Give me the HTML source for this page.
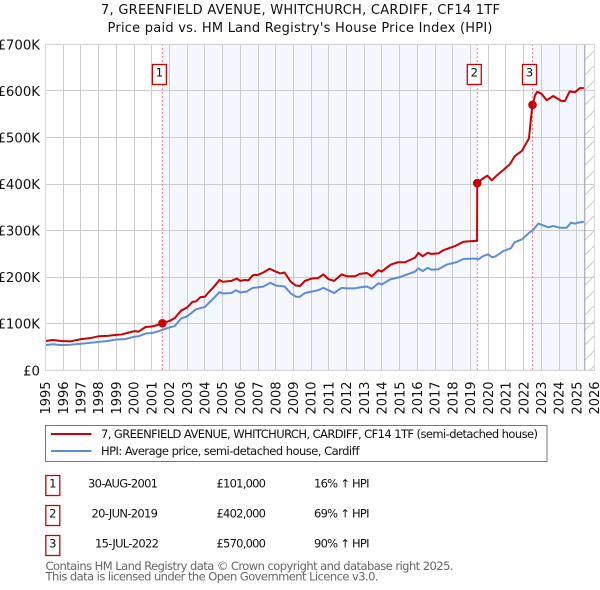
<!DOCTYPE html>
<html lang="en">
<head>
<meta charset="utf-8">
<title>7, Greenfield Avenue price chart</title>
<style>
html,body{margin:0;padding:0;background:#fff;}
svg{display:block;font-family:"DejaVu Sans","Liberation Sans",sans-serif;}
</style>
</head>
<body>
<svg id="chart" xmlns="http://www.w3.org/2000/svg" width="600" height="590" viewBox="0 0 600 590">
<defs>
<pattern id="hatch" patternUnits="userSpaceOnUse" width="15" height="15">
<path d="M0 15L15 0" stroke="#c8c8c8" stroke-width="1" fill="none"/>
</pattern>
</defs>
<text x="300.5" y="14" text-anchor="middle" font-size="13" fill="#111" textLength="399">7, GREENFIELD AVENUE, WHITCHURCH, CARDIFF, CF14 1TF</text>
<text x="300" y="32" text-anchor="middle" font-size="13" fill="#111" textLength="385">Price paid vs. HM Land Registry's House Price Index (HPI)</text>
<g id="plot"></g>

<g>
<rect x="45.5" y="425.5" width="501.5" height="36" fill="#fff" stroke="#777" stroke-width="1"/>
<line x1="51" x2="91.5" y1="434" y2="434" stroke="#cc0000" stroke-width="2"/>
<text x="101" y="438" font-size="11.5" fill="#111" textLength="437">7, GREENFIELD AVENUE, WHITCHURCH, CARDIFF, CF14 1TF (semi-detached house)</text>
<line x1="51" x2="91.5" y1="451" y2="451" stroke="#5f8dd3" stroke-width="2"/>
<text x="101" y="455" font-size="11.5" fill="#111" textLength="258.5">HPI: Average price, semi-detached house, Cardiff</text>
</g>

<g>
<rect x="45.8" y="475.5" width="14" height="20" fill="#fff" stroke="#cc0000" stroke-width="1.3"/>
<text x="52.8" y="487.5" text-anchor="middle" font-size="11.5" fill="#111">1</text>
<text x="88" y="487.5" font-size="11.5" fill="#111" textLength="70">30-AUG-2001</text>
<text x="216.5" y="487.5" font-size="11.5" fill="#111" textLength="49.5">£101,000</text>
<text x="314" y="487.5" font-size="11.5" fill="#111" textLength="55.5">16% ↑ HPI</text>
</g>
<g>
<rect x="45.8" y="505.5" width="14" height="20" fill="#fff" stroke="#cc0000" stroke-width="1.3"/>
<text x="52.8" y="517.5" text-anchor="middle" font-size="11.5" fill="#111">2</text>
<text x="91.5" y="517.5" font-size="11.5" fill="#111" textLength="66.5">20-JUN-2019</text>
<text x="216.5" y="517.5" font-size="11.5" fill="#111" textLength="49.5">£402,000</text>
<text x="314" y="517.5" font-size="11.5" fill="#111" textLength="55.5">69% ↑ HPI</text>
</g>
<g>
<rect x="45.8" y="535.5" width="14" height="20" fill="#fff" stroke="#cc0000" stroke-width="1.3"/>
<text x="52.8" y="547.5" text-anchor="middle" font-size="11.5" fill="#111">3</text>
<text x="95" y="547.5" font-size="11.5" fill="#111" textLength="64">15-JUL-2022</text>
<text x="216.5" y="547.5" font-size="11.5" fill="#111" textLength="49.5">£570,000</text>
<text x="314" y="547.5" font-size="11.5" fill="#111" textLength="55.5">90% ↑ HPI</text>
</g>

<text x="45.5" y="570" font-size="11.5" fill="#666" textLength="408">Contains HM Land Registry data © Crown copyright and database right 2025.</text>
<text x="45.5" y="580.5" font-size="11.5" fill="#666" textLength="333">This data is licensed under the Open Government Licence v3.0.</text>
</svg>
<script>
const yearTicks = [1995,1996,1997,1998,1999,2000,2001,2002,2003,2004,2005,2006,2007,2008,2009,2010,2011,2012,2013,2014,2015,2016,2017,2018,2019,2020,2021,2022,2023,2024,2025,2026];
const valueTicks = [0,100,200,300,400,500,600,700];
const valueLabels = ['£0','£100K','£200K','£300K','£400K','£500K','£600K','£700K'];

const hpiDates = [1995,1995.4,1995.9,1996.4,1997,1997.5,1998,1998.5,1999,1999.5,2000,2000.25,2000.65,2001,2001.3,2001.6,2002,2002.3,2002.65,2003,2003.5,2004,2004.5,2004.83,2005,2005.5,2005.75,2006,2006.35,2006.7,2007,2007.3,2007.7,2008,2008.5,2008.85,2009.15,2009.37,2009.65,2010.03,2010.4,2010.69,2010.97,2011.3,2011.72,2012,2012.48,2012.76,2013.14,2013.42,2013.8,2013.98,2014.45,2015,2015.5,2015.87,2016.05,2016.3,2016.58,2016.8,2017.18,2017.65,2018.2,2018.6,2019.25,2019.44,2019.7,2020,2020.2,2020.38,2020.85,2021.27,2021.5,2021.9,2022.36,2022.5,2022.83,2023.4,2023.67,2024.05,2024.43,2024.67,2024.9,2025.08,2025.4];
const hpiValues = [54,56,54,55,57,59,61,63,66,67,72,73,79,80,83,87,92,95,111,116,131,136,155,168,165,166,172,167,169,177,178,180,188,182,180,165,158,158,166,169,172,177,172,166,177,176,176,178,180,175,187,184,195,200,207,212,219,213,220,216,217,227,232,239,240,238,245,249,243,244,256,262,275,281,297,300,315,307,310,306,306,317,315,317,319];

const priceDates = [1995,1995.4,1995.9,1996.4,1997,1997.5,1998,1998.5,1999,1999.3,2000,2000.25,2000.65,2001,2001.3,2001.6,2002,2002.3,2002.65,2003,2003.3,2003.5,2003.75,2004,2004.2,2004.5,2004.83,2005,2005.5,2005.8,2006,2006.27,2006.45,2006.7,2007,2007.3,2007.65,2008,2008.25,2008.5,2008.85,2009.15,2009.37,2009.65,2010.03,2010.4,2010.69,2010.97,2011.3,2011.72,2012,2012.48,2012.76,2013.14,2013.42,2013.8,2013.98,2014.5,2014.9,2015.3,2015.87,2016.05,2016.3,2016.58,2016.8,2017.18,2017.47,2018.14,2018.6,2019.25,2019.37,2019.38,2019.63,2019.95,2020.2,2020.5,2020.85,2021.23,2021.5,2021.9,2022.3,2022.42,2022.5,2022.65,2022.77,2023,2023.3,2023.67,2024.15,2024.33,2024.6,2024.9,2025.17,2025.4];
const priceValues = [63,65,63,62,67,69,73,74,76,77,84,83,93,94,97,101,106,112,128,135,147,148,157,158,167,179,194,190,192,197,192,194,193,204,205,210,218,212,208,210,190,182,181,192,197,198,206,196,192,206,202,202,207,209,202,215,212,227,232,232,242,252,245,252,250,251,258,267,276,278,278,402,410,418,408,419,430,443,460,471,498,544,570,591,598,594,580,589,578,578,599,597,606,606];

const saleDates = [2001.6,2019.38,2022.5];
const saleValues = [101,402,570];
const saleNumbers = ['1','2','3'];
const dataEndYear = 2025.45;

const NS = 'http://www.w3.org/2000/svg';
const plot = document.getElementById('plot');
const X0 = 45.5, X1 = 594.5, Y0 = 370.3, Y1 = 44.3;
function xScale(year){ return X0 + (year - 1995) * (X1 - X0) / 31; }
function yScale(v){ return Y0 - v * (Y0 - Y1) / 700; }
function make(tag, attrs, parent){
  const el = document.createElementNS(NS, tag);
  for (const k in attrs) el.setAttribute(k, attrs[k]);
  (parent || plot).appendChild(el);
  return el;
}
function pathFrom(dates, values){
  return dates.map((d, i) => (i ? 'L' : 'M') + xScale(d).toFixed(2) + ' ' + yScale(values[i]).toFixed(2)).join('');
}

const band1 = make('rect', {x: xScale(saleDates[0]), y: Y1, width: xScale(saleDates[1]) - xScale(saleDates[0]), height: Y0 - Y1, fill: '#f5f7ff'});


const band2 = make('rect', {x: xScale(saleDates[2]), y: Y1, width: xScale(dataEndYear) - xScale(saleDates[2]), height: Y0 - Y1, fill: '#f5f7ff'});


const hatch = make('rect', {x: xScale(dataEndYear), y: Y1, width: X1 - xScale(dataEndYear), height: Y0 - Y1, fill: 'url(#hatch)'});



yearTicks.forEach(function(yr){
  const px = Math.round(xScale(yr) - 0.5) + 0.5;
  const g = make('line', {x1: px, x2: px, y1: Y1, y2: Y0, stroke: '#cccccc', 'stroke-width': 1});
  
  
  const bx = xScale(yr) + 4.6;
  const t = make('text', {x: bx, y: 414.5, 'font-size': 13, fill: '#111', transform: 'rotate(-90 ' + bx + ' 414.5)'});
  
  
  t.textContent = yr;
});
valueTicks.forEach(function(v, i){
  const py = Math.round(yScale(v) - 0.5) + 0.5;
  const g = make('line', {x1: X0, x2: X1, y1: py, y2: py, stroke: '#cccccc', 'stroke-width': 1});
  
  
  const t = make('text', {x: 40, y: yScale(v) + 5, 'text-anchor': 'end', 'font-size': 13.3, fill: '#111'});
  
  
  t.textContent = valueLabels[i];
});

const endLine = make('line', {x1: xScale(dataEndYear), x2: xScale(dataEndYear), y1: Y1, y2: Y0, stroke: '#999999', 'stroke-width': 1});



saleDates.forEach(function(d){
  const l = make('line', {x1: xScale(d), x2: xScale(d), y1: Y1, y2: Y0, stroke: '#ff5566', 'stroke-width': 1, 'stroke-dasharray': '1.5 2.5'});
  
  
});

const hpiLine = make('path', {d: pathFrom(hpiDates, hpiValues), fill: 'none', stroke: '#5f8dd3', 'stroke-width': 2, 'stroke-linejoin': 'round'});


const priceLine = make('path', {d: pathFrom(priceDates, priceValues), fill: 'none', stroke: '#cc0000', 'stroke-width': 2, 'stroke-linejoin': 'round'});



saleDates.forEach(function(d, i){
  const c = make('circle', {cx: xScale(d), cy: yScale(saleValues[i]), r: 4.3, fill: '#cc0000'});
  
  
  const bx = xScale(d) - 10;
  const b = make('rect', {x: bx, y: 64.5, width: 14, height: 20, fill: '#fff', stroke: '#cc0000', 'stroke-width': 1.3});
  
  
  const t = make('text', {x: bx + 7, y: 76.5, 'text-anchor': 'middle', 'font-size': 11.5, fill: '#111'});
  
  
  t.textContent = saleNumbers[i];
});

const frame = make('rect', {x: X0, y: Y1, width: X1 - X0, height: Y0 - Y1, fill: 'none', stroke: '#d8d8d8', 'stroke-width': 1});


</script>
</body>
</html>
